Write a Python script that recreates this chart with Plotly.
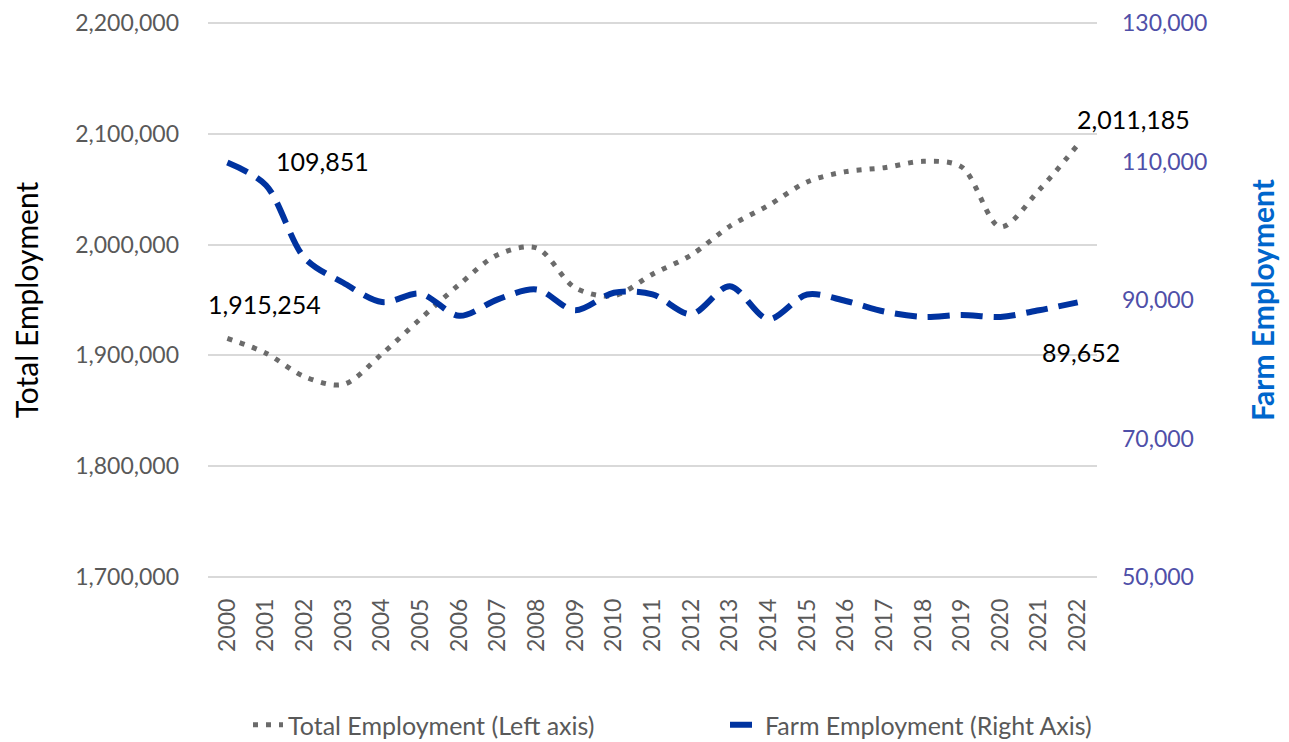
import plotly.graph_objects as go

years = list(range(2000, 2023))

total_employment = [
    1915254, 1902000, 1880700, 1873800, 1901300, 1933200, 1964000, 1990900,
    1997000, 1961000, 1953900, 1973300, 1990600, 2016600, 2035400, 2056600,
    2065900, 2069500, 2075200, 2070100, 2016000, 2049200, 2090000,
]

farm_employment = [
    109851, 106580, 96070, 92490, 89710, 90910, 87710, 90100,
    91530, 88520, 91050, 90810, 87950, 92000, 87230, 90800,
    89860, 88330, 87560, 87850, 87560, 88520, 89652,
]

left_ticks = [1700000, 1800000, 1900000, 2000000, 2100000, 2200000]
right_ticks = [50000, 70000, 90000, 110000, 130000]

# data labels shown in the chart (text as printed)
label_total_first = "1,915,254"
label_total_last = "2,011,185"
label_farm_first = "109,851"
label_farm_last = "89,652"

FONT = "Lato"
GRAY_TXT = "#595959"
W, H = 1273, 734  # page body adds 8px margin around the div

fig = go.Figure()
fig.add_trace(go.Scatter(
    x=years, y=total_employment, name="Total Employment (Left axis)",
    mode="lines", line=dict(color="#6B6B6B", width=5, dash="5px,8px", shape="spline", smoothing=0.9),
    yaxis="y", legend="legend",
))
fig.add_trace(go.Scatter(
    x=years, y=farm_employment, name="Farm Employment (Right Axis)",
    mode="lines", line=dict(color="#0033A0", width=6, dash="22px,11px", shape="spline", smoothing=0.9),
    yaxis="y2", legend="legend2",
))

lbl_font = dict(family=FONT, size=25, color="#000000")
fig.add_annotation(x=years[0], y=total_employment[0], yref="y", text=label_total_first,
                   showarrow=False, xanchor="left", yanchor="middle", xshift=-21, yshift=34, font=lbl_font)
fig.add_annotation(x=years[-1], y=total_employment[-1], yref="y", text=label_total_last,
                   showarrow=False, xanchor="center", yanchor="middle", xshift=56, yshift=26, font=lbl_font)
fig.add_annotation(x=years[0], y=farm_employment[0], yref="y2", text=label_farm_first,
                   showarrow=False, xanchor="left", yanchor="middle", xshift=47, yshift=2, font=lbl_font)
fig.add_annotation(x=years[-1], y=farm_employment[-1], yref="y2", text=label_farm_last,
                   showarrow=False, xanchor="center", yanchor="middle", xshift=3, yshift=-50, font=lbl_font)

leg_common = dict(
    orientation="h", xref="container", yref="container", xanchor="left", yanchor="middle",
    y=1 - 717 / H, font=dict(family=FONT, size=25, color=GRAY_TXT), bgcolor="rgba(0,0,0,0)",
)

fig.update_layout(
    width=W, height=H,
    margin=dict(l=200, r=184, t=14, b=164),
    plot_bgcolor="white", paper_bgcolor="white",
    font=dict(family=FONT, size=23, color=GRAY_TXT),
    xaxis=dict(
        range=[1999.5, 2022.5], tickvals=years, ticktext=[str(y) for y in years],
        tickangle=-90, showgrid=False, zeroline=False, showline=False, automargin=False,
        tickfont=dict(family=FONT, size=23, color=GRAY_TXT), ticklabelstandoff=15,
        ticklabeloverflow="allow",
    ),
    yaxis=dict(
        range=[1699000, 2201000], tickvals=left_ticks, tickformat=",",
        showgrid=True, gridcolor="#D9D9D9", gridwidth=2, zeroline=False, showline=False,
        automargin=False, ticklabeloverflow="allow",
        tickfont=dict(family=FONT, size=23, color=GRAY_TXT), ticklabelstandoff=28,
        title=dict(text="Total Employment", font=dict(family=FONT, size=30, color="#000000"), standoff=46),
    ),
    yaxis2=dict(
        overlaying="y", side="right", range=[49840, 130160], tickvals=right_ticks, tickformat=",",
        showgrid=False, zeroline=False, showline=False, automargin=False, ticklabeloverflow="allow",
        tickfont=dict(family=FONT, size=23, color="#4F4FA8"), ticklabelstandoff=24,
        title=dict(text="<b>Farm Employment</b>", font=dict(family=FONT, size=30, color="#0066CC"), standoff=46),
    ),
    legend=dict(x=240 / W, **leg_common),
    legend2=dict(x=717 / W, **leg_common),
    showlegend=True,
)

fig.write_html("out.html")
